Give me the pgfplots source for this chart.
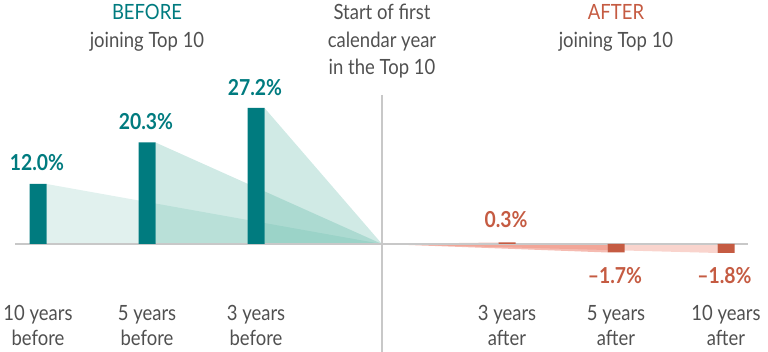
\documentclass[border=0pt]{standalone}
\usepackage{fontspec}
\setmainfont{Lato}[FakeStretch=0.88]
\usepackage{pgfplots}
\pgfplotsset{compat=1.18}
\definecolor{tealbar}{RGB}{0,123,127}
\definecolor{mint}{RGB}{67,171,151}
\definecolor{redbar}{RGB}{197,91,66}
\definecolor{pinkfill}{RGB}{235,120,100}
\definecolor{txtgray}{RGB}{80,80,80}
\definecolor{linegray}{RGB}{200,200,200}
\tikzset{
  lbl/.style={font=\fontsize{21}{24}\selectfont, text=txtgray, anchor=base, inner sep=0pt},
  val/.style={font=\fontsize{22}{24}\selectfont\bfseries, anchor=base, inner sep=0pt}
}
\begin{document}
\begin{tikzpicture}
\useasboundingbox (0,0) rectangle (768pt,352pt);
\begin{axis}[at={(0,0)}, anchor=south west, width=768pt, height=352pt, scale only axis,
  xmin=0, xmax=768, ymin=-21.6, ymax=48.8, axis lines=none, clip=false]
% before triangles
\addplot[fill=mint, fill opacity=0.16, draw=none] coordinates {(46.5,12.0) (382,0) (46.5,0)} -- cycle;
\addplot[fill=mint, fill opacity=0.25, draw=none] coordinates {(155.5,20.3) (382,0) (155.5,0)} -- cycle;
\addplot[fill=mint, fill opacity=0.25, draw=none] coordinates {(264.5,27.2) (382,0) (264.5,0)} -- cycle;
% after triangles
\addplot[fill=pinkfill, fill opacity=0.5, draw=none] coordinates {(382,0) (498.5,0.3) (498.5,0)} -- cycle;
\addplot[fill=pinkfill, fill opacity=0.5, draw=none] coordinates {(382,0) (607.5,-1.7) (607.5,0)} -- cycle;
\addplot[fill=pinkfill, fill opacity=0.32, draw=none] coordinates {(382,0) (717.5,-1.8) (717.5,0)} -- cycle;
% baseline
\addplot[linegray, line width=1.5pt] coordinates {(15,0) (748,0)};
% bars
\addplot[ybar, bar width=17, bar shift=0pt, fill=tealbar, draw=none] coordinates {(38,12.0) (147,20.3) (256,27.2)};
\addplot[ybar, bar width=17, bar shift=0pt, fill=redbar, draw=none] coordinates {(507,0.3) (616,-1.7) (726,-1.8)};
% vertical line
\addplot[linegray, line width=1.5pt] coordinates {(382,29.8) (382,-21.6)};
% value labels
\node[val, text=tealbar] at (axis cs:37,14.6) {12.0\%};
\node[val, text=tealbar] at (axis cs:146,22.8) {20.3\%};
\node[val, text=tealbar] at (axis cs:255,29.6) {27.2\%};
\node[val, text=redbar] at (axis cs:506,3.2) {0.3\%};
\node[val, text=redbar] at (axis cs:615,-8.0) {–1.7\%};
\node[val, text=redbar] at (axis cs:724.5,-8.0) {–1.8\%};
% headers
\node[lbl, text=tealbar] at (axis cs:147,44.8) {BEFORE};
\node[lbl] at (axis cs:147,39.3) {joining Top 10};
\node[lbl] at (axis cs:382,44.8) {Start of first};
\node[lbl] at (axis cs:382,39.3) {calendar year};
\node[lbl] at (axis cs:382,33.8) {in the Top 10};
\node[lbl, text=redbar] at (axis cs:616,44.8) {AFTER};
\node[lbl] at (axis cs:616,39.3) {joining Top 10};
% category labels
\node[lbl] at (axis cs:38,-15.4) {10 years};
\node[lbl] at (axis cs:38,-20.4) {before};
\node[lbl] at (axis cs:147,-15.4) {5 years};
\node[lbl] at (axis cs:147,-20.4) {before};
\node[lbl] at (axis cs:256,-15.4) {3 years};
\node[lbl] at (axis cs:256,-20.4) {before};
\node[lbl] at (axis cs:507,-15.4) {3 years};
\node[lbl] at (axis cs:507,-20.4) {after};
\node[lbl] at (axis cs:616,-15.4) {5 years};
\node[lbl] at (axis cs:616,-20.4) {after};
\node[lbl] at (axis cs:726,-15.4) {10 years};
\node[lbl] at (axis cs:726,-20.4) {after};
\end{axis}
\end{tikzpicture}
\end{document}
